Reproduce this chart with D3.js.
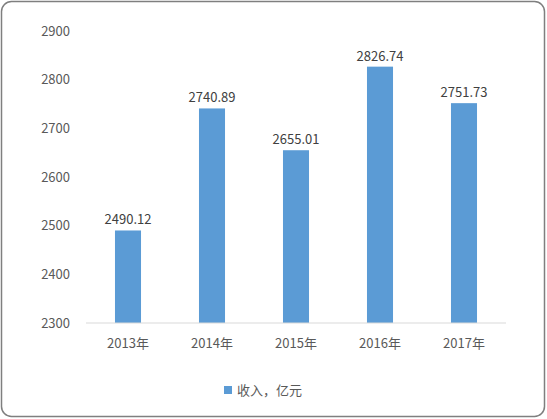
<!DOCTYPE html>
<html><head><meta charset="utf-8">
<script src="https://cdn.jsdelivr.net/npm/d3@7"></script>
<style>body{margin:0;background:#fff}</style>
</head><body>
<svg id="chart" width="547" height="419"></svg>
<script>
// chart values
const years = ['2013年', '2014年', '2015年', '2016年', '2017年'];
const income = [2490.12, 2740.89, 2655.01, 2826.74, 2751.73];
const yTicks = [2300, 2400, 2500, 2600, 2700, 2800, 2900];
const seriesName = '收入，亿元';

const svg = d3.select('#chart')
    .attr('font-family', '"Noto Sans CJK SC", "DejaVu Sans", sans-serif');

// outer frame
svg.append('rect')
    .attr('x', 1.5).attr('y', 1.5).attr('width', 543).attr('height', 415)
    .attr('rx', 10).attr('fill', '#fff').attr('stroke', '#7f7f7f').attr('stroke-width', 1.5);

const x = d3.scaleBand().domain(years).range([86, 506]).paddingInner(0.69).paddingOuter(0.345);
const y = d3.scaleLinear().domain([2300, 2900]).range([323, 31]);

// y axis labels
svg.append('g').selectAll('text')
    .data(yTicks).enter().append('text')
    .attr('x', 70).attr('y', d => y(d)).attr('dy', '0.35em')
    .attr('text-anchor', 'end').attr('font-size', 13).attr('fill', '#595959')
    .text(d => d);

// bars
svg.append('g').selectAll('rect')
    .data(income).enter().append('rect')
    .attr('x', (d, i) => x(years[i]))
    .attr('y', d => y(d))
    .attr('width', x.bandwidth())
    .attr('height', d => y(2300) - y(d))
    .attr('fill', '#5b9bd5');

// value labels
svg.append('g').selectAll('text')
    .data(income).enter().append('text')
    .attr('x', (d, i) => x(years[i]) + x.bandwidth() / 2)
    .attr('y', d => y(d) - 6)
    .attr('text-anchor', 'middle').attr('font-size', 13).attr('fill', '#404040')
    .text(d => d.toFixed(2));

// baseline
svg.append('line')
    .attr('x1', 86).attr('x2', 506).attr('y1', y(2300)).attr('y2', y(2300))
    .attr('stroke', '#d9d9d9');

// category labels
svg.append('g').selectAll('text')
    .data(years).enter().append('text')
    .attr('x', d => x(d) + x.bandwidth() / 2)
    .attr('y', 348)
    .attr('text-anchor', 'middle').attr('font-size', 13).attr('fill', '#595959')
    .text(d => d);

// legend
svg.append('rect').attr('x', 224).attr('y', 386).attr('width', 8).attr('height', 8).attr('fill', '#5b9bd5');
svg.append('text').attr('x', 237).attr('y', 390).attr('dy', '0.35em')
    .attr('font-size', 13).attr('fill', '#595959').text(seriesName);
</script>
</body></html>
